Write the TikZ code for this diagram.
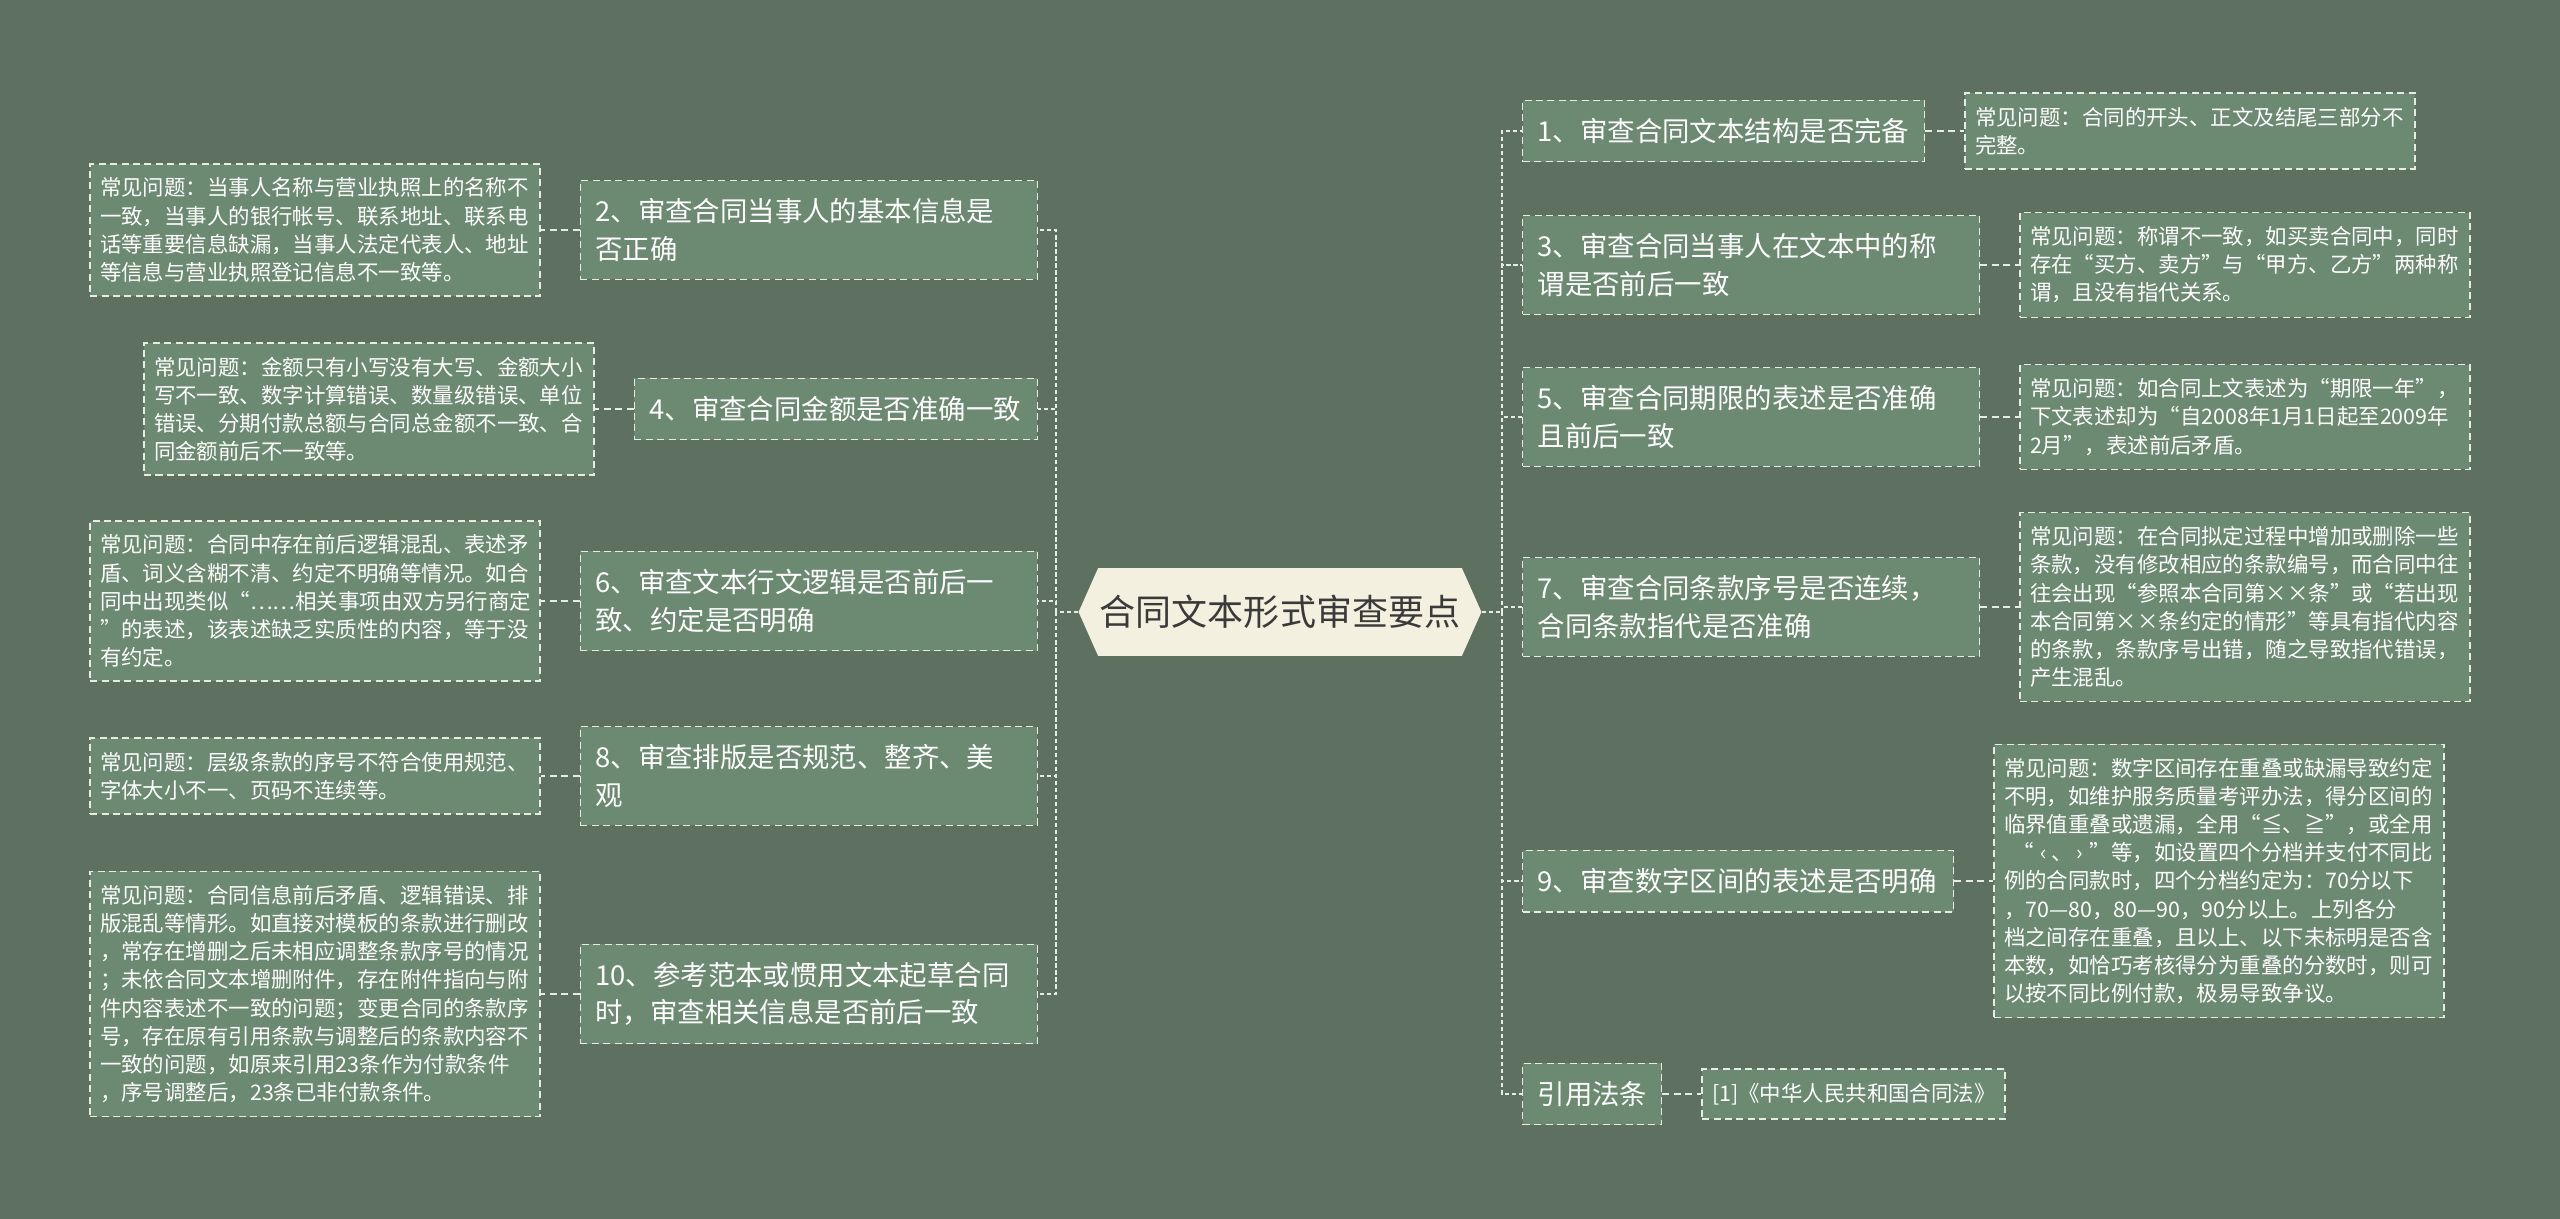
\documentclass[tikz,border=0pt]{standalone}
\usepackage{fontspec}
\newfontfamily\cjk{Noto Sans CJK SC}
\usetikzlibrary{positioning,shapes.symbols}
\definecolor{bgcol}{HTML}{5E7160}
\definecolor{boxcol}{HTML}{6C8A72}
\definecolor{linecol}{HTML}{E6EBE4}
\definecolor{rootcol}{HTML}{F3F0DF}
\definecolor{roottext}{HTML}{3A3A3A}

\begin{document}
\begin{tikzpicture}[x=0.02cm, y=-0.02cm, node distance=0.78cm,
    box/.style={draw=linecol, fill=boxcol, line width=0.8pt, dash pattern=on 4pt off 2.5pt, text=white, align=left},
    topic/.style={box, font=\cjk\fontsize{15.6pt}{21.3pt}\selectfont, inner xsep=0.3cm, inner ysep=0.36cm, text width=8.54cm},
    note/.style={box, font=\cjk\fontsize{12.2pt}{16pt}\selectfont, inner xsep=0.2cm, inner ysep=0.28cm, text width=8.6cm},
    root/.style={signal, signal to=west and east, signal pointer angle=132, fill=rootcol, text=roottext, font=\cjk\fontsize{20.5pt}{24pt}\selectfont, minimum height=1.76cm, inner xsep=1pt},
    link/.style={draw=linecol, line width=0.8pt, dash pattern=on 4pt off 2.5pt},
    spine/.style={draw=linecol, line width=1.5pt, dash pattern=on 2.5pt off 1.5pt}]
    \useasboundingbox (0,0) rectangle (2560,1219);
    \fill[bgcol] (0,0) rectangle (2560,1219);

    \node[root] (root) at (1280,612) {合同文本形式审查要点};
    \coordinate (lspine) at (1056,612);
    \coordinate (rspine) at (1502,612);

    \node[topic, anchor=east] (l2) at (1038,230) {2、审查合同当事人的基本信息是\\否正确};
    \node[topic, anchor=east, text width=7.46cm] (l4) at (1038,409) {4、审查合同金额是否准确一致};
    \node[topic, anchor=east] (l6) at (1038,601) {6、审查文本行文逻辑是否前后一\\致、约定是否明确};
    \node[topic, anchor=east] (l8) at (1038,776) {8、审查排版是否规范、整齐、美\\观};
    \node[topic, anchor=east] (l10) at (1038,994) {10、参考范本或惯用文本起草合同\\时，审查相关信息是否前后一致};

    \node[note, left=of l2] (n2) {常见问题：当事人名称与营业执照上的名称不\\一致，当事人的银行帐号、联系地址、联系电\\话等重要信息缺漏，当事人法定代表人、地址\\等信息与营业执照登记信息不一致等。};
    \node[note, left=of l4] (n4) {常见问题：金额只有小写没有大写、金额大小\\写不一致、数字计算错误、数量级错误、单位\\错误、分期付款总额与合同总金额不一致、合\\同金额前后不一致等。};
    \node[note, left=of l6] (n6) {常见问题：合同中存在前后逻辑混乱、表述矛\\盾、词义含糊不清、约定不明确等情况。如合\\同中出现类似“……相关事项由双方另行商定\\”的表述，该表述缺乏实质性的内容，等于没\\有约定。};
    \node[note, left=of l8] (n8) {常见问题：层级条款的序号不符合使用规范、\\字体大小不一、页码不连续等。};
    \node[note, left=of l10] (n10) {常见问题：合同信息前后矛盾、逻辑错误、排\\版混乱等情形。如直接对模板的条款进行删改\\，常存在增删之后未相应调整条款序号的情况\\；未依合同文本增删附件，存在附件指向与附\\件内容表述不一致的问题；变更合同的条款序\\号，存在原有引用条款与调整后的条款内容不\\一致的问题，如原来引用23条作为付款条件\\，序号调整后，23条已非付款条件。};

    \node[topic, anchor=west, text width=7.44cm] (r1) at (1522,131) {1、审查合同文本结构是否完备};
    \node[topic, anchor=west] (r3) at (1522,265) {3、审查合同当事人在文本中的称\\谓是否前后一致};
    \node[topic, anchor=west] (r5) at (1522,417) {5、审查合同期限的表述是否准确\\且前后一致};
    \node[topic, anchor=west] (r7) at (1522,607) {7、审查合同条款序号是否连续，\\合同条款指代是否准确};
    \node[topic, anchor=west, text width=8.02cm] (r9) at (1522,881) {9、审查数字区间的表述是否明确};
    \node[topic, anchor=west, text width=2.18cm] (law) at (1522,1094) {引用法条};

    \node[note, right=of r1] (m1) {常见问题：合同的开头、正文及结尾三部分不\\完整。};
    \node[note, right=of r3] (m3) {常见问题：称谓不一致，如买卖合同中，同时\\存在“买方、卖方”与“甲方、乙方”两种称\\谓，且没有指代关系。};
    \node[note, right=of r5] (m5) {常见问题：如合同上文表述为“期限一年”，\\下文表述却为“自2008年1月1日起至2009年\\2月”，表述前后矛盾。};
    \node[note, right=of r7] (m7) {常见问题：在合同拟定过程中增加或删除一些\\条款，没有修改相应的条款编号，而合同中往\\往会出现“参照本合同第××条”或“若出现\\本合同第××条约定的情形”等具有指代内容\\的条款，条款序号出错，随之导致指代错误，\\产生混乱。};
    \node[note, right=of r9] (m9) {常见问题：数字区间存在重叠或缺漏导致约定\\不明，如维护服务质量考评办法，得分区间的\\临界值重叠或遗漏，全用“≦、≧”，或全用\\\hspace{0.4em}“\hspace{0.3em}‹\hspace{0.2em}、\hspace{0.2em}›\hspace{0.3em}”等，如设置四个分档并支付不同比\\例的合同款时，四个分档约定为：70分以下\\，70—80，80—90，90分以上。上列各分\\档之间存在重叠，且以上、以下未标明是否含\\本数，如恰巧考核得分为重叠的分数时，则可\\以按不同比例付款，极易导致争议。};
    \node[note, right=of law, text width=5.66cm] (ref) {[1]《中华人民共和国合同法》};

    \draw[spine] (root.west) -- (lspine);
    \draw[spine] (lspine) |- (l2.east);
    \draw[spine] (lspine) |- (l4.east);
    \draw[spine] (lspine) |- (l6.east);
    \draw[spine] (lspine) |- (l8.east);
    \draw[spine] (lspine) |- (l10.east);
    \draw[link] (l2.west) -- (n2.east);
    \draw[link] (l4.west) -- (n4.east);
    \draw[link] (l6.west) -- (n6.east);
    \draw[link] (l8.west) -- (n8.east);
    \draw[link] (l10.west) -- (n10.east);

    \draw[spine] (root.east) -- (rspine);
    \draw[spine] (rspine) |- (r1.west);
    \draw[spine] (rspine) |- (r3.west);
    \draw[spine] (rspine) |- (r5.west);
    \draw[spine] (rspine) |- (r7.west);
    \draw[spine] (rspine) |- (r9.west);
    \draw[spine] (rspine) |- (law.west);
    \draw[link] (r1.east) -- (m1.west);
    \draw[link] (r3.east) -- (m3.west);
    \draw[link] (r5.east) -- (m5.west);
    \draw[link] (r7.east) -- (m7.west);
    \draw[link] (r9.east) -- (m9.west);
    \draw[link] (law.east) -- (ref.west);
\end{tikzpicture}
\end{document}
